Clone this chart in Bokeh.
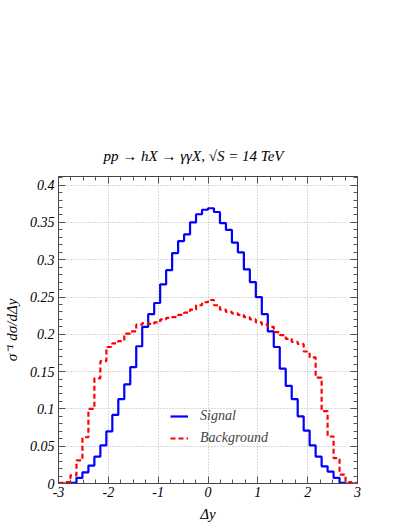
import numpy as np
from bokeh.plotting import figure
from bokeh.models import Range1d, LinearAxis, SingleIntervalTicker, CustomJSTickFormatter
from bokeh.embed import file_html
from bokeh.resources import INLINE

# ---- data (50 bins between -3 and 3) ----
x_min, x_max = -3.0, 3.0
signal = [0.0, 0.0, 0.001, 0.0076, 0.015, 0.024, 0.036, 0.051, 0.070, 0.092,
          0.113, 0.133, 0.156, 0.184, 0.210, 0.227, 0.242, 0.267, 0.286, 0.309,
          0.325, 0.334, 0.350, 0.361, 0.367, 0.369, 0.364, 0.349, 0.340, 0.323,
          0.310, 0.287, 0.270, 0.250, 0.227, 0.204, 0.183, 0.154, 0.131, 0.113,
          0.090, 0.071, 0.051, 0.036, 0.023, 0.016, 0.0076, 0.001, 0.0, 0.0]
background = [0.001, 0.002, 0.011, 0.031, 0.062, 0.100, 0.141, 0.164, 0.183, 0.188,
              0.191, 0.201, 0.204, 0.213, 0.215, 0.214, 0.216, 0.220, 0.222, 0.223,
              0.226, 0.229, 0.233, 0.239, 0.243, 0.246, 0.239, 0.233, 0.230, 0.228,
              0.226, 0.223, 0.220, 0.216, 0.213, 0.210, 0.203, 0.199, 0.194, 0.190,
              0.187, 0.177, 0.169, 0.142, 0.097, 0.063, 0.034, 0.012, 0.002, 0.001]
series_names = ["Signal", "Background"]
x_ticks = [-3, -2, -1, 0, 1, 2, 3]
x_labels = ["-3", "-2", "-1", "0", "1", "2", "3"]
y_ticks = [0, 0.05, 0.1, 0.15, 0.2, 0.25, 0.3, 0.35, 0.4]
y_labels = ["0", "0.05", "0.1", "0.15", "0.2", "0.25", "0.3", "0.35", "0.4"]
title_text = "pp \u2192 hX \u2192 \u03b3\u03b3X, \u221aS = 14 TeV"
x_label = "\u0394y"
y_label = "\u03c3\u207b\u00b9 d\u03c3/d\u0394y"

edges = np.linspace(x_min, x_max, len(signal) + 1)
sig_y = list(signal) + [signal[-1]]
bkg_y = list(background) + [background[-1]]

FONT = "Liberation Serif"

p = figure(width=391, height=524, x_range=Range1d(x_min, x_max), y_range=Range1d(0, 0.4116),
           output_backend="svg", toolbar_location=None,
           min_border_left=57, min_border_right=34, min_border_top=176, min_border_bottom=40)
p.background_fill_color = "white"
p.border_fill_color = "white"
p.outline_line_color = "#444444"

def fmt(tvals, tlabs):
    return CustomJSTickFormatter(args=dict(tvals=tvals, tlabs=tlabs), code="""
        for (let i = 0; i < tvals.length; i++) {
            if (Math.abs(tvals[i] - tick) < 1e-6) return tlabs[i];
        }
        return '';
    """)

blank = CustomJSTickFormatter(code="return '';")

def style_axis(ax, ticker, formatter):
    ax.ticker = ticker
    ax.formatter = formatter
    ax.axis_line_color = "#444444"
    ax.major_tick_line_color = "#555555"
    ax.minor_tick_line_color = "#555555"
    ax.major_tick_in = 7
    ax.major_tick_out = 0
    ax.minor_tick_in = 4
    ax.minor_tick_out = 0
    ax.major_label_text_font = FONT
    ax.major_label_text_font_style = "italic"
    ax.major_label_text_font_size = "14px"
    ax.major_label_text_color = "black"
    ax.axis_label_text_font = FONT
    ax.axis_label_text_font_style = "italic"
    ax.axis_label_text_font_size = "15px"
    ax.axis_label_text_color = "black"

xt = SingleIntervalTicker(interval=1, num_minor_ticks=4)
yt = SingleIntervalTicker(interval=0.05, num_minor_ticks=5)

style_axis(p.xaxis[0], xt, fmt(x_ticks, x_labels))
style_axis(p.yaxis[0], yt, fmt(y_ticks, y_labels))
p.xaxis[0].axis_label = x_label
p.yaxis[0].axis_label = y_label
p.xaxis[0].major_label_standoff = 3
p.xaxis[0].axis_label_standoff = 6
p.yaxis[0].major_label_standoff = 4
p.yaxis[0].axis_label_standoff = 7

top = LinearAxis()
style_axis(top, SingleIntervalTicker(interval=1, num_minor_ticks=4), blank)
top.major_label_standoff = 0
p.add_layout(top, "above")
right = LinearAxis()
style_axis(right, SingleIntervalTicker(interval=0.05, num_minor_ticks=5), blank)
right.major_label_standoff = 0
p.add_layout(right, "right")

for g, t in ((p.xgrid[0], xt), (p.ygrid[0], yt)):
    g.ticker = t
    g.grid_line_color = "#b4b4b4"
    g.grid_line_dash = "1 2"
    g.grid_line_width = 1

p.step(edges, sig_y, mode="after", line_color="#0000ff", line_width=2.2,
       legend_label=series_names[0])
p.step(edges, bkg_y, mode="after", line_color="#ff0000", line_width=2.2,
       line_dash="5 3", legend_label=series_names[1])

lg = p.legend[0]
lg.location = (112, 36)
lg.background_fill_alpha = 0
lg.border_line_alpha = 0
lg.padding = 0
lg.margin = 0
lg.spacing = 4
lg.glyph_width = 18
lg.glyph_height = 18
lg.label_height = 18
lg.label_standoff = 12
lg.label_text_font = FONT
lg.label_text_font_style = "italic"
lg.label_text_font_size = "14px"

p.title.text = title_text
p.title.text_font = FONT
p.title.text_font_style = "italic"
p.title.text_font_size = "15px"
p.title.text_color = "black"
p.title.align = "left"
p.title.offset = 45
p.title.standoff = 26

open("out.html", "w").write(file_html(p, INLINE))
